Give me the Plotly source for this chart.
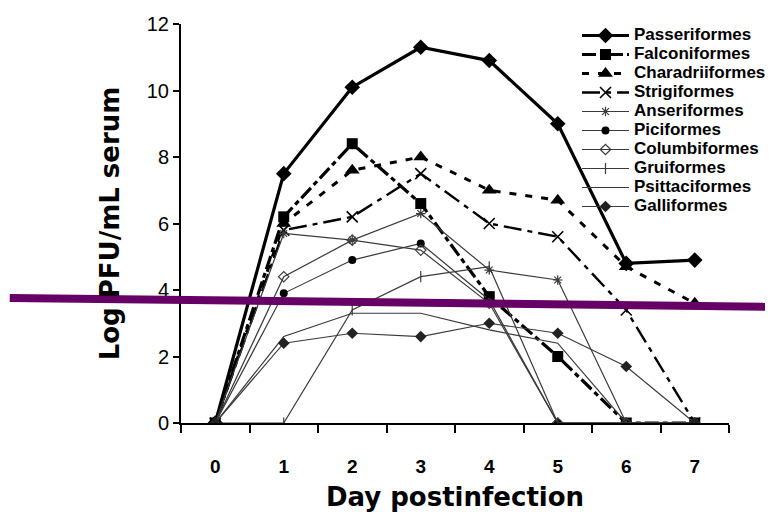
import plotly.graph_objects as go

days = [0, 1, 2, 3, 4, 5, 6, 7]
x_tick_labels = ["0", "1", "2", "3", "4", "5", "6", "7"]
y_ticks = [0, 2, 4, 6, 8, 10, 12]

passeriformes = [0, 7.5, 10.1, 11.3, 10.9, 9.0, 4.8, 4.9]
falconiformes = [0, 6.2, 8.4, 6.6, 3.8, 2.0, 0, 0]
charadriiformes = [0, 6.0, 7.6, 8.0, 7.0, 6.7, 4.7, 3.6]
strigiformes = [0, 5.8, 6.2, 7.5, 6.0, 5.6, 3.4, 0]
anseriformes = [0, 5.7, 5.5, 6.3, 4.6, 4.3, 0, 0]
piciformes = [0, 3.9, 4.9, 5.4, 3.7, 0, 0, 0]
columbiformes = [0, 4.4, 5.5, 5.2, 3.6, 0, 0, 0]
gruiformes = [0, 0, 3.4, 4.4, 4.7, 0, 0, 0]
psittaciformes = [0, 2.6, 3.3, 3.3, 2.8, 2.4, 0, 0]
galliformes = [0, 2.4, 2.7, 2.6, 3.0, 2.7, 1.7, 0]

# overlay threshold line (data units): left/right ends
line_x = [-3.0, 8.15]
line_y = [3.76, 3.49]

X_RANGE = [-0.5, 7.5]
Y_RANGE = [0, 12]

thin = "#3a3a3a"
series = [
    ("Passeriformes", passeriformes, dict(color="black", width=3.2), dict(symbol="diamond", size=12, color="black")),
    ("Falconiformes", falconiformes, dict(color="black", width=3.2, dash="14px,4px,5px,4px"), dict(symbol="square", size=11, color="black")),
    ("Charadriiformes", charadriiformes, dict(color="black", width=3, dash="7px,9px"), dict(symbol="triangle-up", size=13, color="black")),
    ("Strigiformes", strigiformes, dict(color="black", width=2.4, dash="18px,6px,5px,6px"), dict(symbol="x-thin-open", size=11, color="black", line=dict(width=1.6, color="black"))),
    ("Anseriformes", anseriformes, dict(color=thin, width=1.2), dict(symbol="asterisk-open", size=8, color=thin, line=dict(width=1.2, color=thin))),
    ("Piciformes", piciformes, dict(color=thin, width=1.2), dict(symbol="circle", size=8, color="black")),
    ("Columbiformes", columbiformes, dict(color=thin, width=1.2), dict(symbol="diamond-open", size=8, color=thin, line=dict(width=1.2, color=thin))),
    ("Gruiformes", gruiformes, dict(color=thin, width=1.2), dict(symbol="line-ns-open", size=8, color=thin, line=dict(width=1.2, color=thin))),
    ("Psittaciformes", psittaciformes, dict(color=thin, width=1.2), None),
    ("Galliformes", galliformes, dict(color=thin, width=1.2), dict(symbol="diamond", size=9, color="#222")),
]

LEGEND_TEXT_SIZE = 17

fig = go.Figure()
for name, vals, ln, mk in series:
    label = f'<span style="font-size:{LEGEND_TEXT_SIZE}px">{name}</span>'
    if mk is None:
        fig.add_trace(go.Scatter(x=days, y=vals, name=label, mode="lines", line=ln))
    else:
        fig.add_trace(go.Scatter(x=days, y=vals, name=label, mode="lines+markers", line=ln, marker=mk))


def px(v):
    return (v - X_RANGE[0]) / (X_RANGE[1] - X_RANGE[0])


def py(v):
    return (v - Y_RANGE[0]) / (Y_RANGE[1] - Y_RANGE[0])


fig.add_shape(type="line", xref="paper", yref="paper",
              x0=px(line_x[0]), x1=px(line_x[1]), y0=py(line_y[0]), y1=py(line_y[1]),
              line=dict(color="#660066", width=8), layer="above")

arial = "Arial, Liberation Sans, sans-serif"
wide = "DejaVu Sans, Verdana, sans-serif"
fig.update_layout(
    width=765, height=517,
    margin=dict(l=173, r=44, t=16, b=102, autoexpand=False),
    paper_bgcolor="white", plot_bgcolor="white",
    font=dict(family=arial, color="black"),
    showlegend=True,
    legend=dict(x=0.7226, y=1.0075, xanchor="left", yanchor="top",
                bgcolor="rgba(0,0,0,0)", font=dict(size=11.2, family=arial, weight="bold"),
                itemwidth=47, tracegroupgap=0),
    xaxis=dict(range=X_RANGE, tickvals=days, ticktext=x_tick_labels, ticks="",
               showline=True, linecolor="black", linewidth=2, showgrid=False, zeroline=False,
               tickfont=dict(size=19, family=arial, weight="bold"),
               ticklabelstandoff=25, automargin=False,
               minor=dict(tickvals=[d - 0.5 for d in days] + [days[-1] + 0.5], ticks="outside",
                          ticklen=8, tickwidth=2, tickcolor="black", showgrid=False),
               title=dict(text="Day postinfection", font=dict(size=26, family=wide, weight="bold"), standoff=12)),
    yaxis=dict(range=Y_RANGE, tickvals=y_ticks, ticks="outside", ticklen=6, tickwidth=2, tickcolor="black",
               showline=True, linecolor="black", linewidth=2, showgrid=False, zeroline=False,
               tickfont=dict(size=20, family=arial), automargin=False,
               title=dict(text="Log PFU/mL serum", font=dict(size=26, family=wide, weight="bold"), standoff=20)),
)

fig.write_html("out.html")
